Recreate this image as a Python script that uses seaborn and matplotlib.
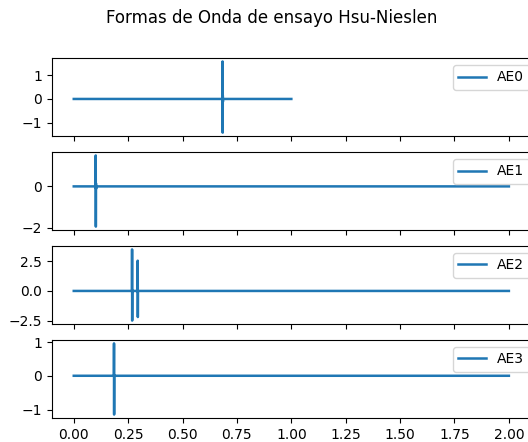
import pandas as pd
import seaborn as sns
import matplotlib.pyplot as plt

# waveform key points (time, amplitude)
ae0_t = [0.0, 0.6835, 0.684, 0.6845, 0.685, 0.6855, 0.686, 1.0]
ae0_v = [0.0, 0.0, 1.58, -1.42, 0.15, -0.12, 0.0, 0.0]

ae1_t = [0.0, 0.1005, 0.101, 0.1015, 0.102, 0.1025, 0.103, 2.0]
ae1_v = [0.0, 0.0, 1.5, -1.95, 0.15, -0.12, 0.0, 0.0]

ae2_t = [0.0, 0.2675, 0.268, 0.2685, 0.269, 0.2935, 0.294, 0.2945, 0.295, 2.0]
ae2_v = [0.0, 0.0, 3.5, -2.5, 0.0, 0.0, 2.55, -2.2, 0.0, 0.0]

ae3_t = [0.0, 0.1845, 0.185, 0.1855, 0.186, 2.0]
ae3_v = [0.0, 0.0, 0.96, -1.15, 0.0, 0.0]

labels = ['AE0', 'AE1', 'AE2', 'AE3']
yticks = [[-1, 0, 1], [-2, 0], [-2.5, 0.0, 2.5], [-1, 0, 1]]

series = [(ae0_t, ae0_v), (ae1_t, ae1_v), (ae2_t, ae2_v), (ae3_t, ae3_v)]

fig, axs = plt.subplots(4, 1, figsize=(5.28, 4.42), dpi=100, sharex=True)
fig.subplots_adjust(left=0.0985, right=1.005, top=0.869, bottom=0.054, hspace=0.2)

for ax, (t, v), lab, yt in zip(axs, series, labels, yticks):
    df = pd.DataFrame({'t': t, 'v': v})
    sns.lineplot(data=df, x='t', y='v', ax=ax, label=lab, sort=False,
                 color='#1f77b4', linewidth=1.8)
    ax.set_yticks(yt)
    ax.set_xlabel('')
    ax.set_ylabel('')
    ax.legend(loc='upper right', bbox_to_anchor=(1.013, 1.0))

axs[-1].set_xticks([0.0, 0.25, 0.5, 0.75, 1.0, 1.25, 1.5, 1.75, 2.0])
axs[-1].set_xticklabels(['0.00', '0.25', '0.50', '0.75', '1.00', '1.25', '1.50', '1.75', '2.00'])

fig.suptitle('Formas de Onda de ensayo Hsu-Nieslen', x=0.515)
plt.savefig('out.png', dpi=100)
plt.close()
